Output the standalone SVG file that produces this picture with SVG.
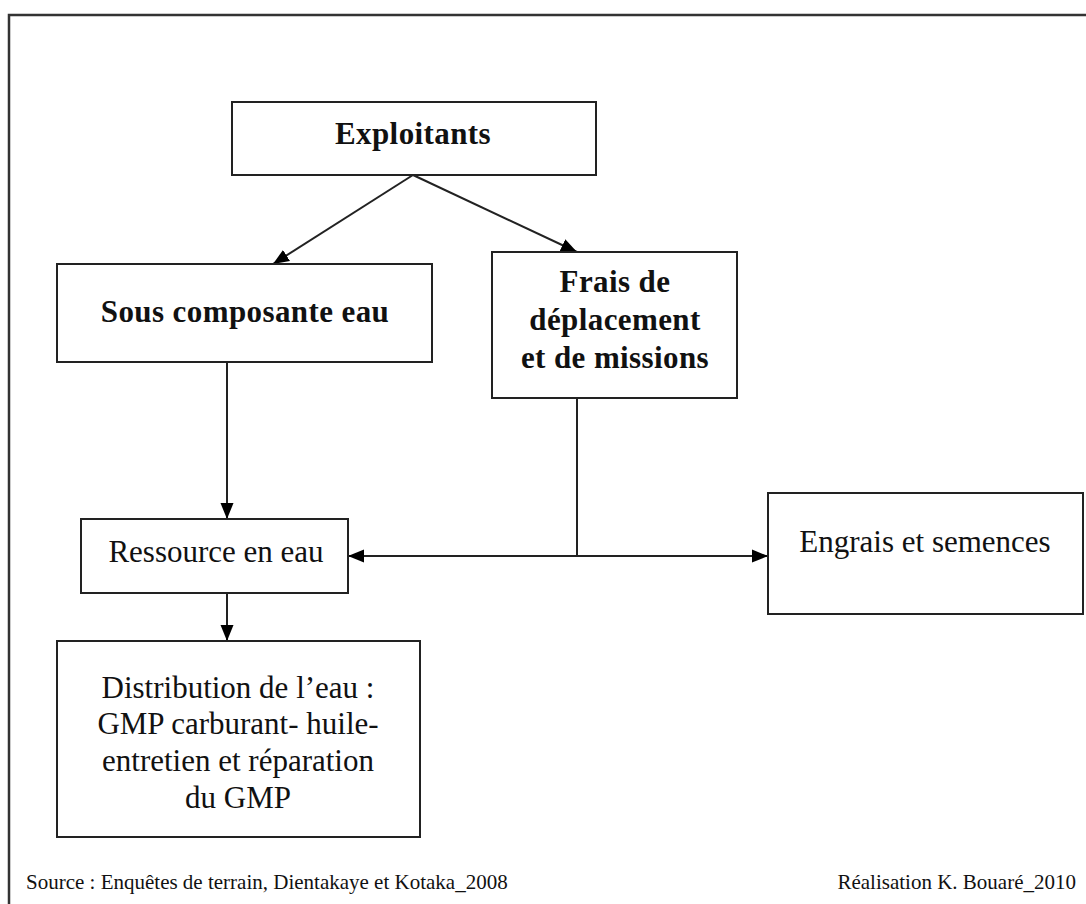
<svg xmlns="http://www.w3.org/2000/svg" width="1086" height="904" viewBox="0 0 1086 904">
<style>
.box{fill:#fff;stroke:#222;stroke-width:2}
.t{font-family:"Liberation Serif","Times New Roman",serif;font-size:31px;fill:#111;text-anchor:middle}
.b{font-weight:bold;letter-spacing:0.4px}
.f{font-family:"Liberation Serif","Times New Roman",serif;font-size:21px;fill:#111}
.c{fill:none;stroke:#222;stroke-width:2}
</style>
<defs>
<marker id="ah" markerUnits="userSpaceOnUse" markerWidth="18" markerHeight="16" refX="16" refY="8" orient="auto">
<path d="M0,1.5 L16,8 L0,14.5 z" fill="#000"/>
</marker>
</defs>
<rect width="1086" height="904" fill="#fff"/>
<rect x="9" y="15" width="1100" height="920" fill="none" stroke="#333" stroke-width="2.5"/>
<g id="connectors">
<path class="c" d="M413,175 L273,264" marker-end="url(#ah)"/>
<path class="c" d="M413,175 L577,252" marker-end="url(#ah)"/>
<path class="c" d="M227,362 L227,519" marker-end="url(#ah)"/>
<path class="c" d="M577,398 L577,556"/>
<path class="c" d="M577,556 L348,556" marker-end="url(#ah)"/>
<path class="c" d="M577,556 L768,556" marker-end="url(#ah)"/>
<path class="c" d="M227,593 L227,641" marker-end="url(#ah)"/>
</g>
<g id="exploitants">
<rect class="box" x="232" y="102" width="364" height="73"/>
<text class="t b" x="413" y="144">Exploitants</text>
</g>
<g id="sous-composante">
<rect class="box" x="57" y="264" width="375" height="98"/>
<text class="t b" x="245" y="322">Sous composante eau</text>
</g>
<g id="frais">
<rect class="box" x="492" y="252" width="245" height="146"/>
<text class="t b" x="615" y="292">Frais de</text>
<text class="t b" x="615" y="330">déplacement</text>
<text class="t b" x="615" y="368">et de missions</text>
</g>
<g id="ressource">
<rect class="box" x="81" y="519" width="267" height="74"/>
<text class="t" x="216" y="562">Ressource en eau</text>
</g>
<g id="engrais">
<rect class="box" x="768" y="493" width="315" height="121"/>
<text class="t" x="925" y="552">Engrais et semences</text>
</g>
<g id="distribution">
<rect class="box" x="57" y="641" width="363" height="196"/>
<text class="t" x="238" y="698">Distribution de l’eau :</text>
<text class="t" x="238" y="734">GMP carburant- huile-</text>
<text class="t" x="238" y="771">entretien et réparation</text>
<text class="t" x="238" y="808">du GMP</text>
</g>
<g id="footer">
<text class="f" x="26" y="889">Source : Enquêtes de terrain, Dientakaye et Kotaka_2008</text>
<text class="f" x="1076" y="889" text-anchor="end">Réalisation K. Bouaré_2010</text>
</g>
</svg>
